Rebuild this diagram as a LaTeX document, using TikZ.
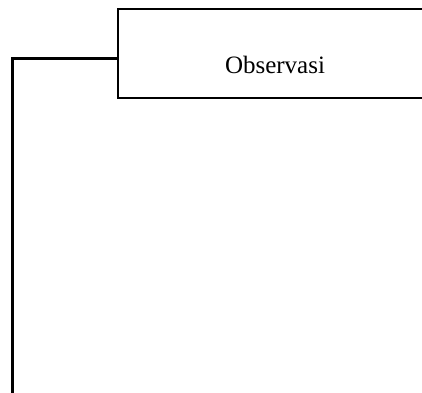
\documentclass[tikz,border=0pt]{standalone}
\usepackage{fontspec}
\setmainfont{Liberation Serif}
\usetikzlibrary{calc}

\begin{document}
\begin{tikzpicture}[x=1pt,y=1pt]
\useasboundingbox (0,0) rectangle (422,-392);
\clip (0,0) rectangle (422,-392);
\tikzset{obsbox/.style={draw, line width=1.5pt, minimum width=310, minimum height=89, inner sep=0pt}}
% The box
\node[obsbox] (obs) at (273,-53.5) {};
\node[font=\fontsize{25}{30}\selectfont] (obslabel) at (275,-65) {Observasi};
% the line on the left
\coordinate (v1) at (12,-58);
\coordinate (v2) at (12,-400);
\draw[line width=3pt] ([yshift=-4.5]obs.west) -- (v1) -- (v2);
\end{tikzpicture}
\end{document}
